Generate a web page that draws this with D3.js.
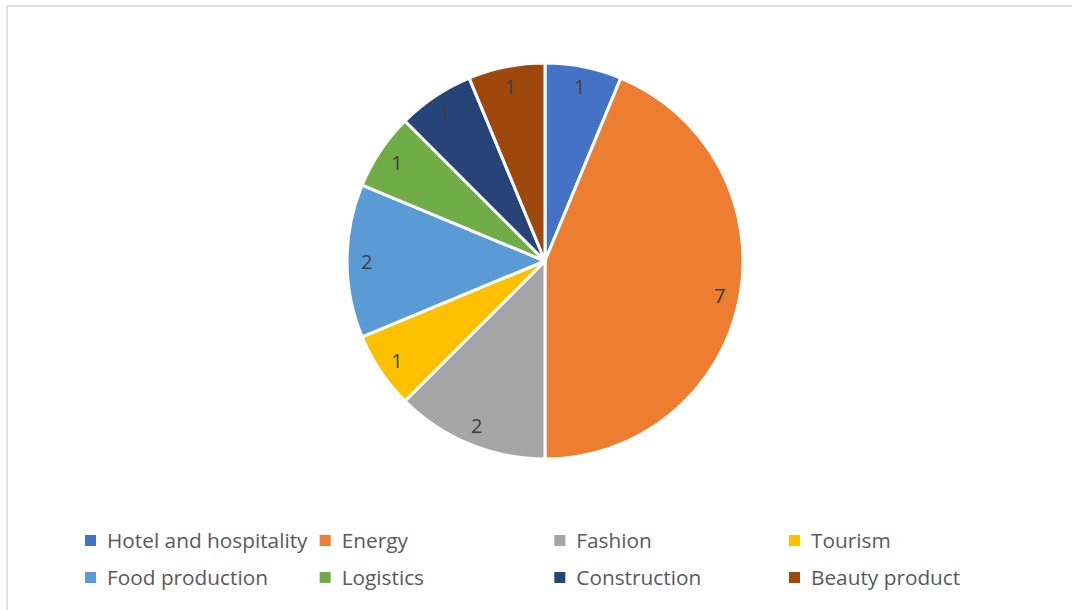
<!DOCTYPE html>
<html lang="en">
<head>
    <meta charset="UTF-8">
    <title>Sectors</title>
    <script src="https://d3js.org/d3.v7.min.js"></script>
    <style>
        body { margin: 0; background: #fff; }
        svg { display: block; font-family: "Open Sans", "Liberation Sans", sans-serif; }
    </style>
</head>
<body>
<div style="width: 1072px;height: 610px" id="figure"></div>
<script>
    // data
    let categories = ["Hotel and hospitality", "Energy", "Fashion", "Tourism",
        "Food production", "Logistics", "Construction", "Beauty product"];
    let values = [1, 7, 2, 1, 2, 1, 1, 1];
    let colors = ["#4472C4", "#ED7D31", "#A5A5A5", "#FFC000",
        "#5B9BD5", "#70AD47", "#264478", "#9E480E"];

    let figure = document.getElementById("figure");
    let w = figure.clientWidth;
    let h = figure.clientHeight;
    let cx = 545, cy = 261;
    let radius = 198;

    let svg = d3.select(figure).append("svg")
        .attr('width', w)
        .attr('height', h);

    // chart area border (only top/left show in the crop)
    svg.append('rect')
        .attr('x', 7)
        .attr('y', 6)
        .attr('width', w + 20)
        .attr('height', h + 20)
        .style('fill', 'none')
        .style('stroke', '#d9d9d9')
        .style('stroke-width', 1.5);

    let data = categories.map((c, i) => ({name: c, value: values[i], color: colors[i]}));

    let pie = d3.pie().sort(null).value(d => d.value);
    let arc = d3.arc().innerRadius(0).outerRadius(radius);
    let labelArc = d3.arc().innerRadius(radius * 0.9).outerRadius(radius * 0.9);

    let plot = svg.append('g')
        .attr('transform', `translate(${cx},${cy})`);

    let slices = pie(data);

    plot.selectAll('path')
        .data(slices)
        .enter()
        .append('path')
        .attr('d', arc)
        .style('fill', d => d.data.color)
        .style('stroke', '#fff')
        .style('stroke-width', 3)
        .style('stroke-linejoin', 'round');

    plot.selectAll('text.lbl')
        .data(slices)
        .enter()
        .append('text')
        .attr('class', 'lbl')
        .attr('x', d => labelArc.centroid(d)[0])
        .attr('y', d => labelArc.centroid(d)[1])
        .attr('text-anchor', 'middle')
        .attr('dominant-baseline', 'central')
        .style('font-size', '20px')
        .style('fill', '#404040')
        .text(d => d.data.value);

    // legend, 4 columns x 2 rows
    let colX = d3.scalePoint().domain(d3.range(4)).range([85, 789]);
    let rowY = d3.scalePoint().domain(d3.range(2)).range([540, 577]);

    let legend = svg.append('g');
    let items = legend.selectAll('g')
        .data(data)
        .enter()
        .append('g')
        .attr('transform', (d, i) => `translate(${colX(i % 4)},${rowY(Math.floor(i / 4))})`);

    items.append('rect')
        .attr('x', 0)
        .attr('y', -5)
        .attr('width', 11)
        .attr('height', 11)
        .style('fill', d => d.color);

    items.append('text')
        .attr('x', 22)
        .attr('y', 0)
        .attr('dominant-baseline', 'central')
        .style('font-size', '20.8px')
        .style('fill', '#595959')
        .text(d => d.name);
</script>
</body>
</html>
